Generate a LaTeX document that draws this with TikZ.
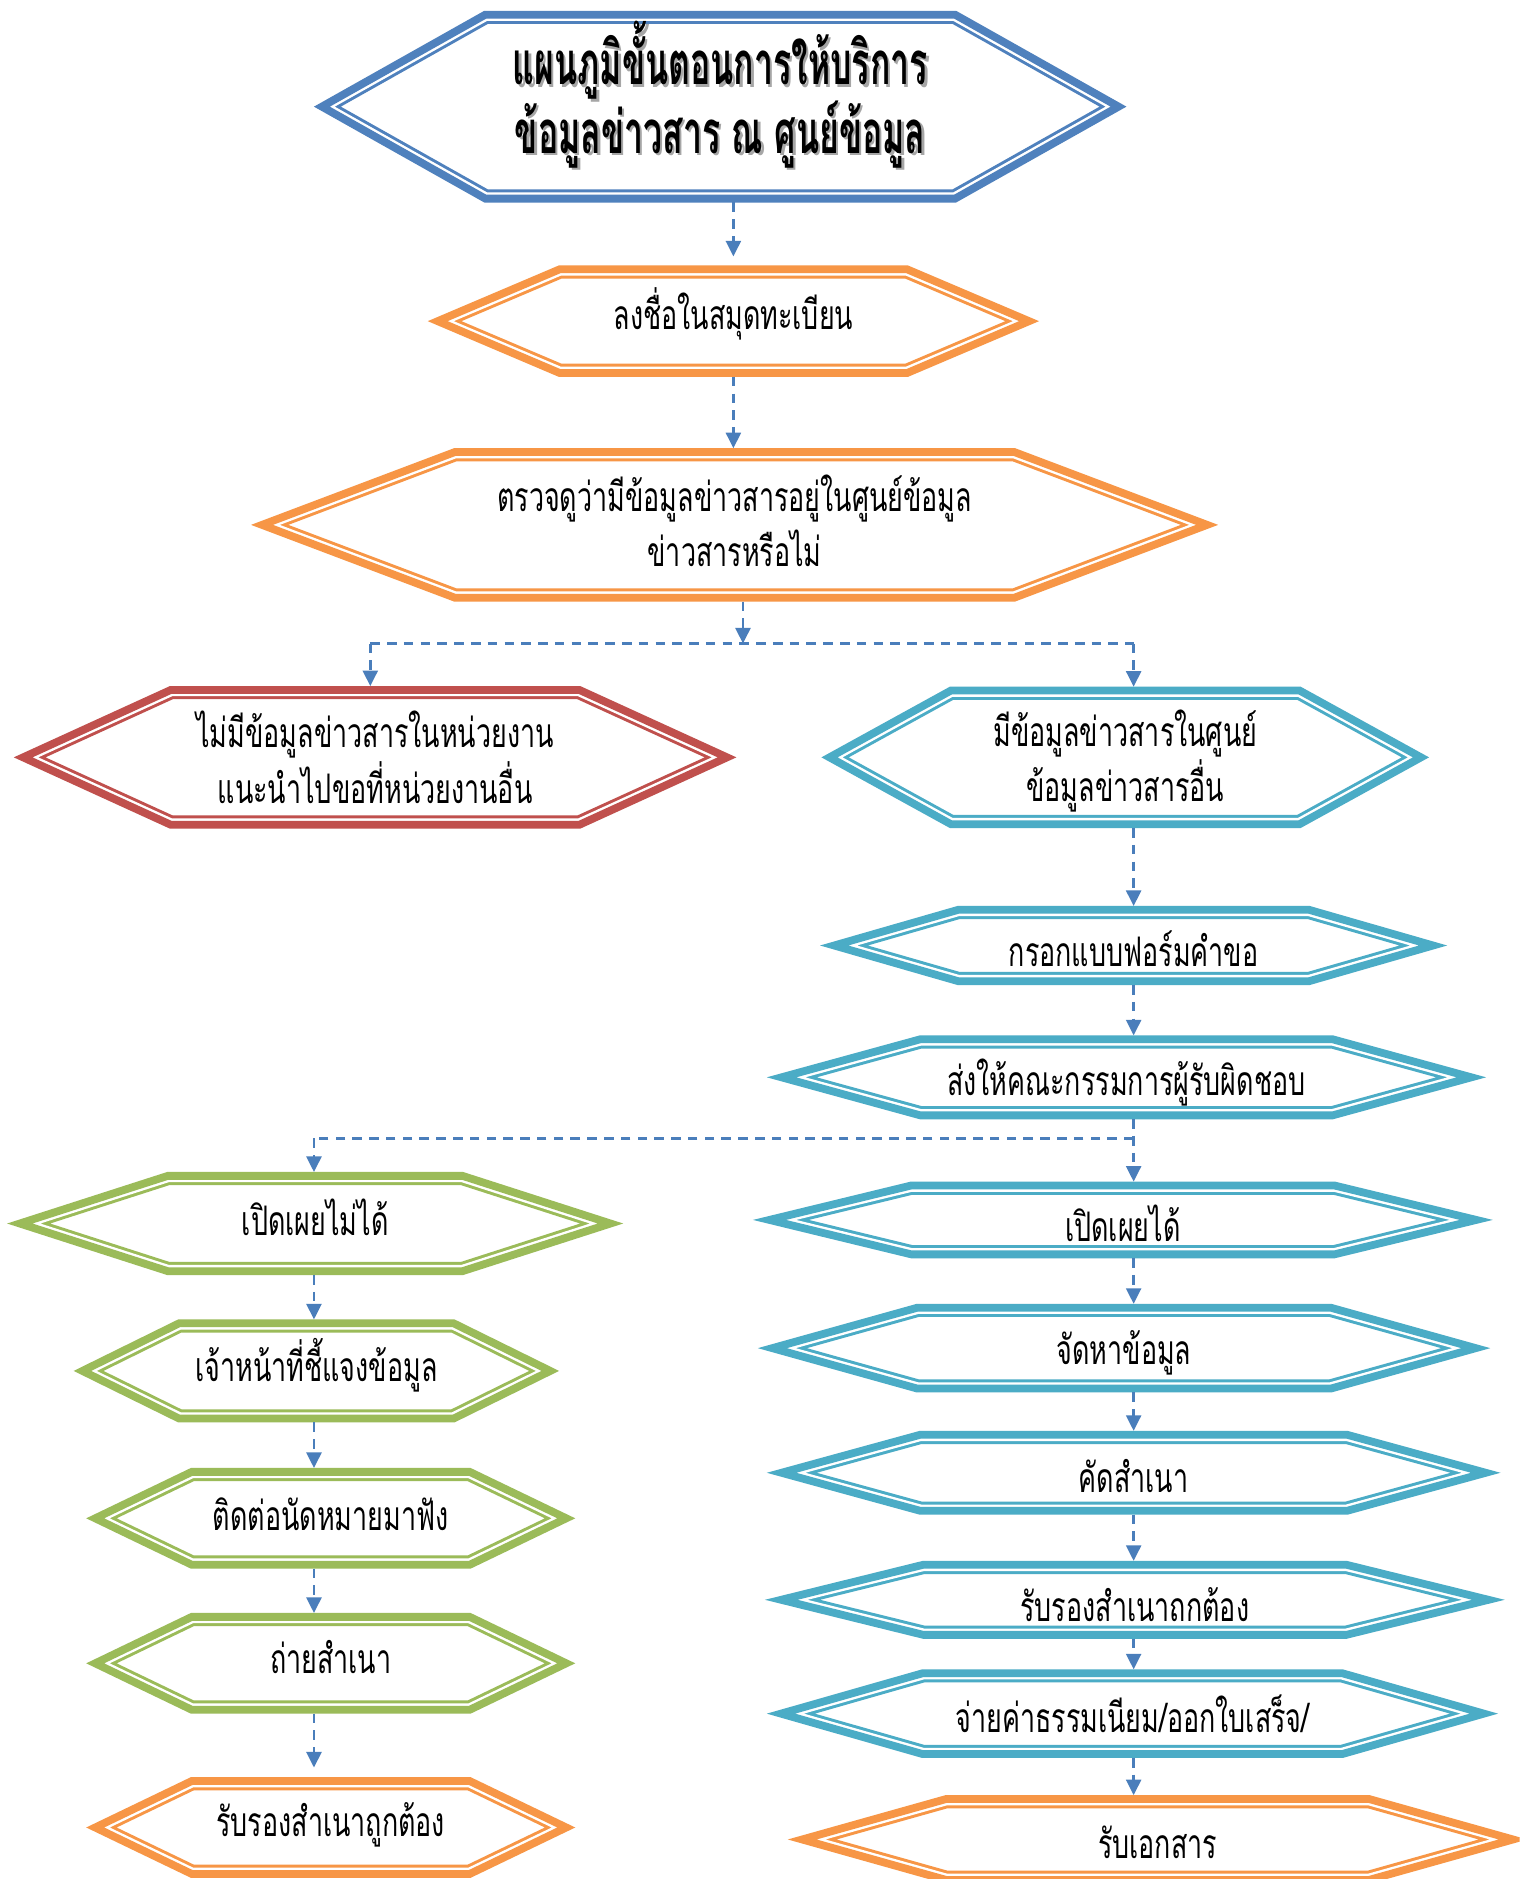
\documentclass[tikz,border=0pt]{standalone}
\usepackage{fontspec}
\newfontfamily\thaifont[Script=Thai, FakeStretch=0.66]{Loma}
\newfontfamily\thaititle[Script=Thai, FakeStretch=0.565]{Loma}
\usetikzlibrary{arrows.meta, calc}

\definecolor{hexblue}{HTML}{4F81BD}
\definecolor{hexorange}{HTML}{F79646}
\definecolor{hexred}{HTML}{C0504D}
\definecolor{hexteal}{HTML}{4BACC6}
\definecolor{hexgreen}{HTML}{9BBB59}
\definecolor{linkblue}{HTML}{4A7EBB}

\newcommand\bodyfont{\thaifont\fontsize{17pt}{23pt}\selectfont}
\newcommand\titlefont{\thaititle\bfseries\fontsize{25pt}{28.5pt}\selectfont}

\tikzset{
  stepnode/.style={inner sep=0pt, outer sep=1.6pt},
  steptext/.style={inner sep=0pt, align=center, font=\bodyfont, text=black},
  link/.style={draw=linkblue, line width=1.2pt, dash pattern=on 4pt off 3pt,
    -{Triangle[length=6.5pt,width=6.2pt]}},
  linkplain/.style={draw=linkblue, line width=1.2pt, dash pattern=on 4pt off 3pt},
}

% hexagon outline around a named node, centre line given by \hexW, \hexH, \hexS
\newcommand\hexpathcmd[3]{#1[#2] (#3.center) ++(-\hexW/2,0) -- ++(\hexS,-\hexH/2)
  -- ++(\hexW-2*\hexS,0) -- ++(\hexS,\hexH/2) -- ++(-\hexS,\hexH/2)
  -- ++(-\hexW+2*\hexS,0) -- cycle;}

% #1 text options, #2 name, #3 centre, #4 outer width, #5 outer height,
% #6 slant length, #7 colour, #8 text
\newcommand\hexstep[8][]{%
  \pgfmathsetmacro\hexH{#5-6.5}%
  \pgfmathsetmacro\hexA{atan(\hexH/2/#6)}%
  \pgfmathsetmacro\hexS{#6-3.25/sin(\hexA)}%
  \pgfmathsetmacro\hexA{atan(\hexH/2/\hexS)}%
  \pgfmathsetmacro\hexW{#4-6.5/sin(\hexA)}%
  \pgfmathsetmacro\hexS{#6-3.25/sin(\hexA)}%
  \node[stepnode, minimum width=\hexW*0.5pt, minimum height=\hexH*0.5pt] (#2) at (#3) {};
  \begin{scope}
    \hexpathcmd{\clip}{}{#2}
    \hexpathcmd{\draw}{draw=#7, line width=7.75pt}{#2}
    \hexpathcmd{\draw}{draw=white, line width=5.25pt}{#2}
  \end{scope}
  \hexpathcmd{\draw}{draw=#7, line width=3.25pt}{#2}
  \node[steptext, #1] (#2-text) at (#2.center) {#8};
}

\begin{document}
\begin{tikzpicture}[x=0.5pt, y=-0.5pt]
  \fill[white] (0,0) rectangle (1268,1568);
  \useasboundingbox (0,0) rectangle (1268,1568);
  \clip (0,0) rectangle (1268,1568);

  % title with its drop shadow
  \node[steptext, font=\titlefont, text=black!35] (titleshade) at (603,81)
    {แผนภูมิขั้นตอนการให้บริการ\\ข้อมูลข่าวสาร ณ ศูนย์ข้อมูล};
  \hexstep[font=\titlefont, yshift=5pt]{title}{601,89}{678}{160}{143}{hexblue}
    {แผนภูมิขั้นตอนการให้บริการ\\ข้อมูลข่าวสาร ณ ศูนย์ข้อมูล}

  % common path
  \hexstep[yshift=3pt]{sign}{612,268}{510}{93}{110}{hexorange}{ลงชื่อในสมุดทะเบียน}
  \hexstep[yshift=1.75pt]{check}{613,438}{807}{128}{170}{hexorange}
    {ตรวจดูว่ามีข้อมูลข่าวสารอยู่ในศูนย์ข้อมูล\\ข่าวสารหรือไม่}

  % branches
  \hexstep{none}{313,632}{603}{119}{131}{hexred}
    {ไม่มีข้อมูลข่าวสารในหน่วยงาน\\แนะนำไปขอที่หน่วยงานอื่น}
  \hexstep[yshift=-1.5pt]{have}{939,632}{507}{118}{108}{hexteal}
    {มีข้อมูลข่าวสารในศูนย์\\ข้อมูลข่าวสารอื่น}
  \hexstep[yshift=-1.5pt]{form}{946,789}{523}{66}{115}{hexteal}{กรอกแบบฟอร์มคำขอ}
  \hexstep[yshift=-2pt]{send}{940,899}{600}{70}{128}{hexteal}{ส่งให้คณะกรรมการผู้รับผิดชอบ}

  % refused column
  \hexstep[yshift=2.5pt]{closed}{263,1021}{514}{86}{134}{hexgreen}{เปิดเผยไม่ได้}
  \hexstep[yshift=2.5pt]{explain}{264,1144}{405}{86}{88}{hexgreen}{เจ้าหน้าที่ชี้แจงข้อมูล}
  \hexstep[yshift=1.5pt]{appoint}{276,1267}{408}{84}{88}{hexgreen}{ติดต่อนัดหมายมาฟัง}
  \hexstep[yshift=2.5pt]{photo}{276,1388}{408}{84}{88}{hexgreen}{ถ่ายสำเนา}
  \hexstep[yshift=1pt]{certL}{276,1525}{408}{84}{88}{hexorange}{รับรองสำเนาถูกต้อง}

  % disclosed column
  \hexstep[yshift=-1.5pt]{open}{937,1018}{617}{64}{132}{hexteal}{เปิดเผยได้}
  \hexstep[yshift=-2pt]{fetch}{938,1125}{611}{74}{133}{hexteal}{จัดหาข้อมูล}
  \hexstep[yshift=-1.5pt]{copy}{946,1229}{612}{70}{128}{hexteal}{คัดสำเนา}
  \hexstep[yshift=-2pt]{certR}{947,1335}{617}{65}{132}{hexteal}{รับรองสำเนาถกต้อง}
  \hexstep{fee}{945,1430}{610}{74}{130}{hexteal}{จ่ายค่าธรรมเนียม/ออกใบเสร็จ/}
  \hexstep[yshift=-1pt]{receive}{966,1535}{617}{74}{132}{hexorange}{รับเอกสาร}

  % connector columns and junctions
  \coordinate (colL) at (262,0);
  \coordinate (colR) at (946,0);
  \coordinate (split) at (620,537);
  \coordinate (splitL) at (309,537);
  \coordinate (splitR) at (946,537);
  \coordinate (fork) at (946,950);
  \coordinate (forkL) at (262,950);
  \coordinate (tailL) at (262,1475);
  \coordinate (signin) at (612,214);

  \draw[link] (title.south -| signin) -- (signin);
  \draw[link] (sign.south) -- (check.north -| sign.south);
  \draw[link] (check.south -| split) -- (split);
  \draw[linkplain] (splitL) -- (splitR);
  \draw[link] (splitL) -- (splitL |- none.north);
  \draw[link] (splitR) -- (splitR |- have.north);
  \draw[link] (have.south -| colR) -- (form.north -| colR);
  \draw[link] (form.south -| colR) -- (send.north -| colR);
  \draw[link] (send.south -| colR) -- (open.north -| colR);
  \draw[linkplain] (fork) -- (forkL);
  \draw[link] (forkL) -- (closed.north -| colL);

  \draw[link] (closed.south -| colL) -- (explain.north -| colL);
  \draw[link] (explain.south -| colL) -- (appoint.north -| colL);
  \draw[link] (appoint.south -| colL) -- (photo.north -| colL);
  \draw[link] (photo.south -| colL) -- (tailL);

  \draw[link] (open.south -| colR) -- (fetch.north -| colR);
  \draw[link] (fetch.south -| colR) -- (copy.north -| colR);
  \draw[link] (copy.south -| colR) -- (certR.north -| colR);
  \draw[link] (certR.south -| colR) -- (fee.north -| colR);
  \draw[link] (fee.south -| colR) -- (receive.north -| colR);
\end{tikzpicture}
\end{document}
